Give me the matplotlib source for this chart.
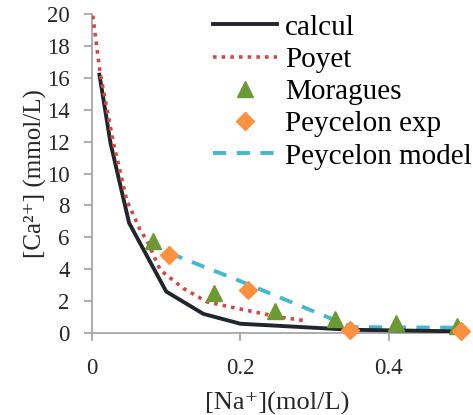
import matplotlib
matplotlib.use("Agg")
import matplotlib.pyplot as plt

calc_x = [0.01, 0.025, 0.05, 0.1, 0.15, 0.2, 0.35, 0.5]
calc_y = [16.2, 11.9, 6.9, 2.6, 1.2, 0.58, 0.2, 0.1]

poyet_x = [0.001, 0.011, 0.029, 0.047, 0.065, 0.074, 0.092, 0.123, 0.155, 0.2, 0.253, 0.29]
poyet_y = [19.9, 16.3, 11.9, 8.3, 6.45, 5.8, 3.95, 2.8, 1.95, 1.5, 1.0, 0.75]

morag_x = [0.082, 0.164, 0.246, 0.328, 0.41, 0.492]
morag_y = [5.8, 2.5, 1.4, 0.9, 0.6, 0.45]

pexp_x = [0.104, 0.21, 0.347, 0.497]
pexp_y = [4.9, 2.7, 0.18, 0.12]

pmod_x = [0.105, 0.2, 0.35, 0.5]
pmod_y = [5.0, 3.25, 0.37, 0.33]

xticks = [0, 0.2, 0.4]
xtick_labels = ["0", "0.2", "0.4"]
yticks = list(range(0, 21, 2))

plt.rcParams['font.family'] = ['Liberation Serif', 'DejaVu Serif']

fig = plt.figure(figsize=(4.73, 4.15), dpi=100)
ax = fig.add_axes([0.1945, 0.1976, 0.979 - 0.1945, 0.966 - 0.1976])

ax.plot(calc_x, calc_y, color='#22252b', lw=2.8, label='calcul', zorder=3)
ax.plot(poyet_x, poyet_y, color='#d04a45', lw=2.6, ls=(0, (1, 1.4)), label='Poyet', zorder=3)
ax.plot(morag_x, morag_y, ls='none', marker='^', ms=11, color='#6b9a34', label='Moragues', clip_on=False, zorder=4)
ax.plot(pexp_x, pexp_y, ls='none', marker='D', ms=9, color='#ff9040', label='Peycelon exp', clip_on=False, zorder=5)
ax.plot(pmod_x, pmod_y, color='#45b8d0', lw=2.8, ls=(0, (3.4, 2.7)), label='Peycelon model', zorder=2)

ax.set_xlim(0, 0.5)
ax.set_ylim(0, 20)
ax.set_xticks(xticks)
ax.set_xticklabels(xtick_labels)
ax.set_yticks(yticks)

for s in ['top', 'right']:
    ax.spines[s].set_visible(False)
for s in ['left', 'bottom']:
    ax.spines[s].set_color('#a6a6a6')
    ax.spines[s].set_linewidth(1.3)
ax.tick_params(axis='both', colors='#a6a6a6', labelcolor='#262626', labelsize=16.5, length=6, width=1.3, direction='out')
ax.tick_params(axis='x', pad=12)
ax.tick_params(axis='y', pad=10)

ax.set_xlabel('[Na⁺](mol/L)', fontsize=19, color='#262626', labelpad=9)
ax.set_ylabel('[Ca²⁺] (mmol/L)', fontsize=18, color='#262626', labelpad=0)

leg = fig.legend(handles=ax.get_lines(), loc='upper right', bbox_to_anchor=(0.998, 0.966), frameon=False, fontsize=21,
                 handlelength=2.2, handletextpad=0.28, labelspacing=0.2, borderaxespad=0, borderpad=0)

fig.savefig('out.png', dpi=100)
